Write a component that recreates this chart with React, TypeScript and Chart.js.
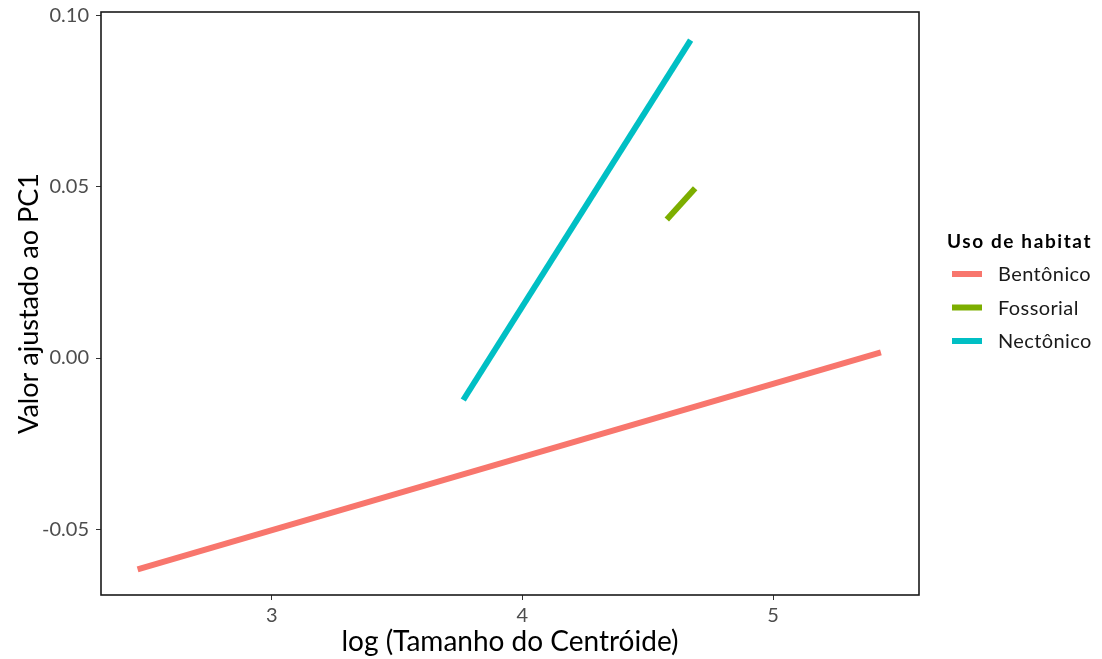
import React, { useEffect, useRef } from "react";
import { Chart, registerables } from "chart.js";

Chart.register(...registerables);

const seriesNames = ["Bentônico", "Fossorial", "Nectônico"];
const seriesColors = ["#F8766D", "#7CAE00", "#00BFC4"];
const bentonicoX = [2.465, 5.43];
const bentonicoY = [-0.0616, 0.00166];
const fossorialX = [4.576, 4.689];
const fossorialY = [0.0404, 0.0495];
const nectonicoX = [3.764, 4.671];
const nectonicoY = [-0.01224, 0.0927];
const xTicks = [3, 4, 5];
const yTicks = [-0.05, 0.0, 0.05, 0.1];
const xTitle = "log (Tamanho do Centróide)";
const yTitle = "Valor ajustado ao PC1";
const legendTitle = "Uso de habitat";

const FONT = "Lato";

function pts(xs: number[], ys: number[]) {
  return xs.map((x, i) => ({ x, y: ys[i] }));
}

export default function App() {
  const ref = useRef<HTMLCanvasElement | null>(null);
  useEffect(() => {
    document.body.style.margin = "0";
    const canvas = ref.current!;
    const data = [
      pts(bentonicoX, bentonicoY),
      pts(fossorialX, fossorialY),
      pts(nectonicoX, nectonicoY),
    ];
    const frame = {
      id: "frame",
      afterDraw(chart: any) {
        const { ctx, chartArea } = chart;
        ctx.save();
        ctx.strokeStyle = "#1a1a1a";
        ctx.lineWidth = 1.6;
        ctx.strokeRect(chartArea.left, chartArea.top, chartArea.right - chartArea.left, chartArea.bottom - chartArea.top);
        // legend
        ctx.fillStyle = "#000";
        ctx.textBaseline = "middle";
        ctx.textAlign = "left";
        ctx.font = `bold 19px ${FONT}`;
        (ctx as any).letterSpacing = "1.6px";
        ctx.fillText(legendTitle, 947, 242);
        (ctx as any).letterSpacing = "0px";
        ctx.font = `20px ${FONT}`;
        seriesNames.forEach((name, i) => {
          const y = 274 + i * 33.5;
          ctx.strokeStyle = seriesColors[i];
          ctx.lineWidth = 6;
          ctx.beginPath();
          ctx.moveTo(952, y);
          ctx.lineTo(982, y);
          ctx.stroke();
          ctx.fillStyle = "#1a1a1a";
          (ctx as any).letterSpacing = "0.4px";
          ctx.fillText(name, 998, y + 1);
          (ctx as any).letterSpacing = "0px";
        });
        ctx.restore();
      },
    };
    const chart = new Chart(canvas, {
      type: "line",
      data: {
        datasets: seriesNames.map((name, i) => ({
          label: name,
          data: data[i],
          borderColor: seriesColors[i],
          backgroundColor: seriesColors[i],
          borderWidth: 6,
          borderCapStyle: "butt",
          pointRadius: 0,
          fill: false,
          tension: 0,
        })),
      },
      options: {
        animation: false,
        responsive: false,
        parsing: false,
        layout: { padding: { top: 12, right: 183, left: 0, bottom: 0 } },
        plugins: { legend: { display: false }, tooltip: { enabled: false } },
        scales: {
          x: {
            type: "linear",
            min: 2.319,
            max: 5.582,
            afterBuildTicks: (s: any) => {
              s.ticks = xTicks.map((v) => ({ value: v }));
            },
            afterFit: (s: any) => {
              s.height = 64;
              s.paddingLeft = 0;
              s.paddingRight = 0;
            },
            grid: { drawOnChartArea: false, drawTicks: true, tickLength: 5, color: "#333", lineWidth: 1 },
            border: { display: false },
            ticks: {
              padding: 4,
              color: "#4D4D4D",
              font: { family: FONT, size: 20 },
              callback: (v: any) => String(v),
            },
            title: {
              display: true,
              text: xTitle,
              color: "#000",
              font: { family: FONT, size: 28 },
              padding: { top: 0, bottom: 0 },
            },
          },
          y: {
            type: "linear",
            min: -0.0691,
            max: 0.1009,
            afterBuildTicks: (s: any) => {
              s.ticks = yTicks.map((v) => ({ value: v }));
            },
            afterFit: (s: any) => {
              s.width = 101;
              s.paddingTop = 0;
              s.paddingBottom = 0;
            },
            grid: { drawOnChartArea: false, drawTicks: true, tickLength: 5, color: "#333", lineWidth: 1 },
            border: { display: false },
            ticks: {
              padding: 7,
              color: "#4D4D4D",
              font: { family: FONT, size: 20 },
              callback: (v: any) => Number(v).toFixed(2),
            },
            title: {
              display: true,
              text: yTitle,
              color: "#000",
              font: { family: FONT, size: 27 },
              padding: { top: 13, bottom: 0 },
            },
          },
        },
      },
      plugins: [frame],
    } as any);
    return () => chart.destroy();
  }, []);
  return (
    <div style={{ position: "absolute", left: 0, top: 0, width: 1102, height: 659, background: "#fff" }}>
      <canvas ref={ref} width={1102} height={659} style={{ display: "block" }} />
    </div>
  );
}
